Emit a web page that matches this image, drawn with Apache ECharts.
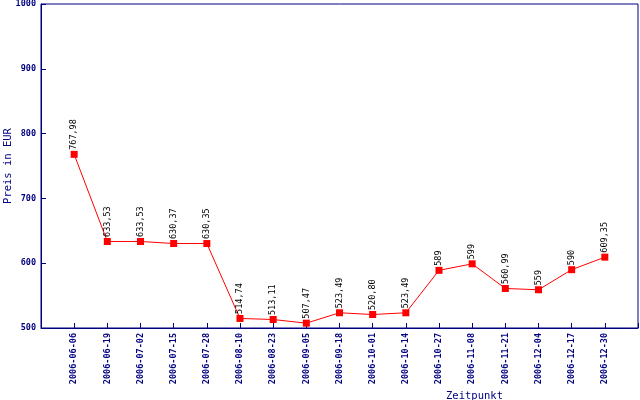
<!DOCTYPE html>
<html><head><meta charset="utf-8">
<script src="https://cdn.jsdelivr.net/npm/echarts@6/dist/echarts.min.js"></script>
<style>html,body{margin:0;padding:0;background:#fff}#c{width:640px;height:400px}</style>
</head><body><div id="c"></div>
<script>
const dates = ['2006-06-06','2006-06-19','2006-07-02','2006-07-15','2006-07-28','2006-08-10','2006-08-23','2006-09-05','2006-09-18','2006-10-01','2006-10-14','2006-10-27','2006-11-08','2006-11-21','2006-12-04','2006-12-17','2006-12-30'];
const prices = [767.98,633.53,633.53,630.37,630.35,514.74,513.11,507.47,523.49,520.80,523.49,589,599,560.99,559,590,609.35];
const priceLabels = ['767,98','633,53','633,53','630,37','630,35','514,74','513,11','507,47','523,49','520,80','523,49','589','599','560,99','559','590','609,35'];
const yTicks = [500,600,700,800,900,1000];

const navy = '#000080';
const font = 'DejaVu Sans Mono';
const chart = echarts.init(document.getElementById('c'), null, {renderer:'canvas'});
chart.setOption({
  animation:false,
  grid:{left:41,right:2,top:4,bottom:72,show:true,borderColor:navy,borderWidth:1,backgroundColor:'transparent',containLabel:false,outerBoundsMode:'none'},
  xAxis:{
    type:'value', min:0, max:dates.length+1, interval:1,
    name:'Zeitpunkt', nameLocation:'middle', nameGap:63, nameMoveOverlap:false,
    nameTextStyle:{color:navy,fontFamily:font,fontSize:10.5,padding:[0,0,0,270]},
    axisLine:{show:true,lineStyle:{color:navy,width:1}},
    axisTick:{show:true,inside:true,length:5,lineStyle:{color:navy}},
    splitLine:{show:false},
    axisLabel:{rotate:90,margin:5,color:navy,fontFamily:font,fontSize:8.5,fontWeight:'bold',
      formatter:v=>dates[v-1]||''}
  },
  yAxis:{
    type:'value', min:yTicks[0], max:yTicks[yTicks.length-1], interval:100,
    name:'Preis in EUR', nameLocation:'middle', nameGap:27, nameMoveOverlap:false,
    nameTextStyle:{color:navy,fontFamily:font,fontSize:10.5},
    axisLine:{show:true,lineStyle:{color:navy,width:1}},
    axisTick:{show:true,inside:true,length:5,lineStyle:{color:navy}},
    splitLine:{show:false},
    axisLabel:{margin:5,color:navy,fontFamily:font,fontSize:8.5,fontWeight:'bold',formatter:v=>String(v)}
  },
  series:[{
    type:'line',
    data:prices.map((v,i)=>[i+1,v]),
    symbol:'rect', symbolSize:7,
    lineStyle:{color:'#ff0000',width:1},
    itemStyle:{color:'#ff0000'},
    label:{show:true,position:'top',rotate:90,align:'left',verticalAlign:'middle',distance:1,
      color:'#000',fontFamily:font,fontSize:8.5,
      formatter:p=>priceLabels[p.dataIndex]}
  }]
});
</script></body></html>
